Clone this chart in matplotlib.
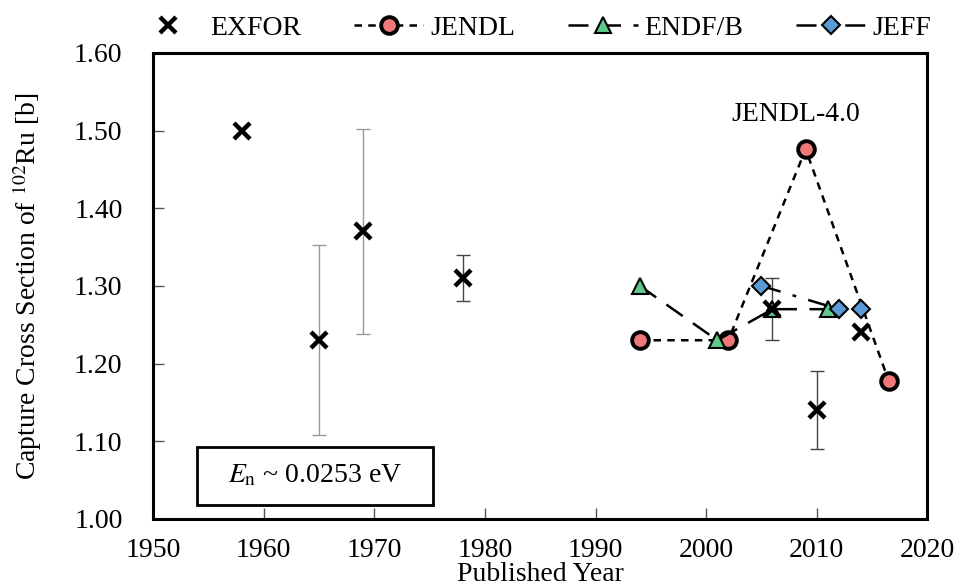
import numpy as np
import matplotlib.pyplot as plt
from matplotlib.patches import Rectangle

plt.rcParams['font.family'] = ['Liberation Serif', 'DejaVu Serif']
plt.rcParams['mathtext.fontset'] = 'stix'

# EXFOR measurements
exfor_year = [1958, 1965, 1969, 1978, 2006, 2010, 2014]
exfor_val = [1.50, 1.23, 1.37, 1.31, 1.27, 1.14, 1.24]
exfor_lo = [0.0, 0.122, 0.132, 0.03, 0.04, 0.05, 0.0]
exfor_hi = [0.0, 0.123, 0.132, 0.03, 0.04, 0.05, 0.0]

# evaluated libraries
jendl_year = [1994, 2002, 2009, 2016.5]
jendl_val = [1.23, 1.23, 1.476, 1.178]
endf_year = [1994, 2001, 2006, 2011]
endf_val = [1.30, 1.23, 1.27, 1.27]
jeff_year = [2005, 2012, 2014]
jeff_val = [1.30, 1.27, 1.27]

fs = 20

fig = plt.figure(figsize=(9.57, 5.87), dpi=100)
ax = fig.add_axes([0.16, 0.116, 0.809, 0.794])

# error bars (only the ones with a spread)
for x, y, lo, hi in zip(exfor_year, exfor_val, exfor_lo, exfor_hi):
    if lo > 0:
        c = '#444444' if lo < 0.1 else '#9a9a9a'
        ax.errorbar(x, y, yerr=[[lo], [hi]], fmt='none', ecolor=c,
                    elinewidth=1, capsize=5, capthick=1, zorder=1)

ax.plot(jendl_year, jendl_val, ls=(0, (3, 2.5)), color='black', lw=1.8,
        marker='o', ms=12, mfc='#f07878', mec='black', mew=2.8, label='JENDL', zorder=3)
ax.plot(endf_year, endf_val, ls=(0, (8, 5)), color='black', lw=1.8,
        marker='^', ms=12, mfc='#5ec98a', mec='black', mew=1.5, label='ENDF/B', zorder=4)
ax.plot(jeff_year, jeff_val, ls=(0, (8, 5, 1.5, 5)), color='black', lw=1.8,
        marker='D', ms=9, mfc='#5b9bd5', mec='black', mew=1.5, label='JEFF', zorder=5)
ax.plot(exfor_year, exfor_val, ls='none', marker='x', ms=11, mew=3.2,
        color='black', label='EXFOR', zorder=6)

ax.set_xlim(1950, 2020)
ax.set_ylim(1.0, 1.6)
ax.set_xticks(np.arange(1950, 2021, 10))
ax.set_yticks(np.arange(1.0, 1.61, 0.1))
ax.set_yticklabels(['%.2f' % v for v in np.arange(1.0, 1.61, 0.1)])
ax.tick_params(direction='in', labelsize=fs, length=8, width=1, color='#555555')
ax.tick_params(axis='y', pad=22)
ax.tick_params(axis='x', pad=14)
for s in ax.spines.values():
    s.set_linewidth(2.2)

ax.set_xlabel('Published Year', fontsize=fs, labelpad=-1)
ax.set_ylabel('Capture Cross Section of $^{102}$Ru [b]', fontsize=fs, labelpad=22)

ax.text(2008.1, 1.52, 'JENDL-4.0', fontsize=fs, ha='center', va='center')
ax.add_patch(Rectangle((0.057, 0.030), 0.305, 0.1245, transform=ax.transAxes,
                       fc='white', ec='black', lw=2, zorder=7))
ax.text(0.2095, 0.092, r'$E_{\rm n}$ ~ 0.0253 eV', transform=ax.transAxes,
        fontsize=fs, ha='center', va='center', zorder=8)

h, l = ax.get_legend_handles_labels()
order = [3, 0, 1, 2]
ax.legend([h[i] for i in order], [l[i] for i in order], loc='center',
          bbox_to_anchor=(0.49, 1.053), ncol=4, frameon=False, fontsize=fs,
          handlelength=2.5, columnspacing=1.9, handletextpad=0.25)

fig.savefig('out.png', dpi=100)
